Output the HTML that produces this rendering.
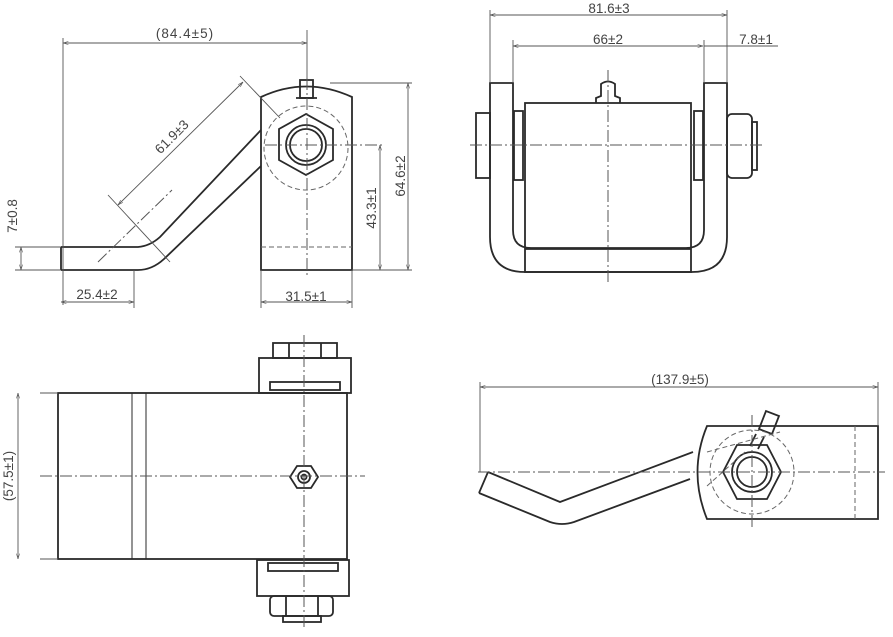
<!DOCTYPE html>
<html><head><meta charset="utf-8"><style>
html,body{margin:0;padding:0;background:#fff}
svg{display:block}
text{font-family:"Liberation Sans",sans-serif;font-size:13.5px;fill:#444}
</style></head><body>
<svg width="893" height="637" viewBox="0 0 893 637" xmlns="http://www.w3.org/2000/svg">
<defs>
<marker id="a" viewBox="0 0 10 10" refX="10" refY="5" markerWidth="6" markerHeight="6" orient="auto-start-reverse"><path d="M0,2 L10,5 L0,8" fill="none" stroke="#555"/></marker>
</defs>
<g fill="none" stroke="#2a2a2a" stroke-width="1.8">
<!-- TOP LEFT -->
<path d="M261,270 L261,97 Q306,76 352,97 L352,270 Z"/>
<path d="M61,247 L138,247 Q150,246 160,237 L261,130 M61,270 L138,270 Q152,270 164,259 L261,166 M61,247 L61,270"/>
<polygon points="306,114 333,129 333,160 306,175 279,160 279,129"/>
<circle cx="306" cy="145" r="20"/><circle cx="306" cy="145" r="16"/>
<rect x="300" y="80" width="13" height="18"/><line x1="296" y1="98" x2="317" y2="98"/>
<!-- TOP RIGHT -->
<path d="M490,83 L513,83 L513,230 Q513,248 531,248 L686,248 Q704,248 704,230 L704,83 L727,83 L727,237 Q727,272 692,272 L525,272 Q490,272 490,237 Z"/>
<rect x="525" y="103" width="166" height="169"/>
<line x1="525" y1="249" x2="691" y2="249"/>
<rect x="514" y="111" width="9" height="69"/><rect x="694" y="111" width="9" height="69"/>
<rect x="476" y="113" width="14" height="65"/>
<rect x="727" y="114" width="25" height="64" rx="5"/><rect x="752" y="122" width="5" height="48"/>
<path d="M596,103 L596,98 L601,96 L601,84 Q608,79 615,84 L615,96 L620,98 L620,103"/>
<!-- BOTTOM LEFT -->
<rect x="58" y="393" width="289" height="166"/>
<line x1="132" y1="393" x2="132" y2="559" stroke-width="1"/><line x1="146" y1="393" x2="146" y2="559" stroke-width="1"/>
<rect x="259" y="358" width="92" height="35"/><rect x="270" y="382" width="70" height="8"/>
<rect x="273" y="343" width="64" height="15"/><line x1="289" y1="343" x2="289" y2="358"/><line x1="321" y1="343" x2="321" y2="358"/>
<rect x="257" y="560" width="92" height="36"/><rect x="268" y="563" width="70" height="8"/>
<rect x="270" y="596" width="63" height="20" rx="4"/><line x1="286" y1="596" x2="286" y2="616"/><line x1="318" y1="596" x2="318" y2="616"/>
<rect x="283" y="616" width="38" height="6"/>
<polygon points="297,466 311,466 318,477 311,488 297,488 290,477"/>
<circle cx="304" cy="477" r="6"/><circle cx="304" cy="477" r="2.5"/>
<!-- BOTTOM RIGHT -->
<path d="M707,426 L878,426 L878,519 L707,519 Q688,472 707,426 Z"/>
<path d="M488,472 L560,502 L693,452 M479,493 L550,522 Q562,526 574,522 L690,479 M479,493 L488,472"/>
<polygon points="737,445 767,445 781,472 767,499 737,499 723,472"/>
<circle cx="752" cy="472" r="20"/><circle cx="752" cy="472" r="15"/>
<path d="M759,429 L766,411 L779,416 L772,434 Z"/>
<line x1="756" y1="434" x2="750" y2="446"/><line x1="764" y1="437" x2="758" y2="449"/>
</g>
<!-- dashed / centre lines -->
<g fill="none" stroke="#555" stroke-width="1" stroke-dasharray="12,3,2,3">
<line x1="307" y1="78" x2="307" y2="278"/><line x1="265" y1="145" x2="385" y2="145"/>
<line x1="470" y1="145" x2="762" y2="145"/><line x1="608" y1="70" x2="608" y2="282"/>
<line x1="40" y1="476" x2="365" y2="476"/><line x1="304" y1="335" x2="304" y2="630"/>
<line x1="478" y1="472" x2="885" y2="472"/><line x1="752" y1="415" x2="752" y2="528"/>
<line x1="98" y1="262" x2="172" y2="190"/>
</g>
<g fill="none" stroke="#666" stroke-width="1" stroke-dasharray="5,3">
<circle cx="306" cy="148" r="42"/><line x1="261" y1="247" x2="352" y2="247"/>
<circle cx="752" cy="472" r="42"/><line x1="855" y1="426" x2="855" y2="519"/>
<path d="M707,452 L780,432 M707,486 L745,452"/>
</g>
<!-- dimensions -->
<g fill="none" stroke="#555" stroke-width="0.9">
<line x1="63" y1="38" x2="63" y2="305"/><line x1="307" y1="30" x2="307" y2="80"/>
<line x1="63" y1="43" x2="307" y2="43" marker-start="url(#a)" marker-end="url(#a)"/>
<line x1="118" y1="205" x2="243" y2="82" marker-start="url(#a)" marker-end="url(#a)"/>
<line x1="108" y1="195" x2="170" y2="262"/><line x1="240" y1="76" x2="280" y2="118"/>
<line x1="15" y1="247" x2="61" y2="247"/><line x1="15" y1="270" x2="61" y2="270"/>
<line x1="21" y1="247" x2="21" y2="270" marker-start="url(#a)" marker-end="url(#a)"/>
<line x1="61" y1="302" x2="134" y2="302" marker-start="url(#a)" marker-end="url(#a)"/><line x1="134" y1="270" x2="134" y2="308"/>
<line x1="261" y1="302" x2="352" y2="302" marker-start="url(#a)" marker-end="url(#a)"/><line x1="261" y1="270" x2="261" y2="308"/><line x1="352" y1="270" x2="352" y2="308"/>
<line x1="352" y1="270" x2="412" y2="270"/><line x1="330" y1="83" x2="412" y2="83"/>
<line x1="380" y1="145" x2="380" y2="270" marker-start="url(#a)" marker-end="url(#a)"/>
<line x1="408" y1="83" x2="408" y2="270" marker-start="url(#a)" marker-end="url(#a)"/>
<line x1="490" y1="10" x2="490" y2="83"/><line x1="727" y1="10" x2="727" y2="83"/>
<line x1="490" y1="15" x2="727" y2="15" marker-start="url(#a)" marker-end="url(#a)"/>
<line x1="513" y1="40" x2="513" y2="83"/><line x1="704" y1="40" x2="704" y2="83"/>
<line x1="513" y1="46" x2="703" y2="46" marker-start="url(#a)" marker-end="url(#a)"/>
<line x1="704" y1="46" x2="778" y2="46"/>
<line x1="40" y1="393" x2="58" y2="393"/><line x1="40" y1="559" x2="58" y2="559"/>
<line x1="18" y1="393" x2="18" y2="559" marker-start="url(#a)" marker-end="url(#a)"/>
<line x1="480" y1="382" x2="480" y2="472"/><line x1="878" y1="382" x2="878" y2="426"/>
<line x1="480" y1="387" x2="878" y2="387" marker-start="url(#a)" marker-end="url(#a)"/>
</g>
<g>
<text x="185" y="38" text-anchor="middle" letter-spacing="1">(84.4±5)</text>
<text x="175" y="140" text-anchor="middle" transform="rotate(-45 175 140)">61.9±3</text>
<text x="17" y="216" text-anchor="middle" transform="rotate(-90 17 216)">7±0.8</text>
<text x="97" y="299" text-anchor="middle">25.4±2</text>
<text x="306" y="301" text-anchor="middle">31.5±1</text>
<text x="376" y="208" text-anchor="middle" transform="rotate(-90 376 208)">43.3±1</text>
<text x="405" y="176" text-anchor="middle" transform="rotate(-90 405 176)">64.6±2</text>
<text x="609" y="13" text-anchor="middle">81.6±3</text>
<text x="608" y="44" text-anchor="middle">66±2</text>
<text x="756" y="44" text-anchor="middle">7.8±1</text>
<text x="13" y="476" text-anchor="middle" transform="rotate(-90 13 476)">(57.5±1)</text>
<text x="680" y="384" text-anchor="middle">(137.9±5)</text>
</g>
</svg>
</body></html>
